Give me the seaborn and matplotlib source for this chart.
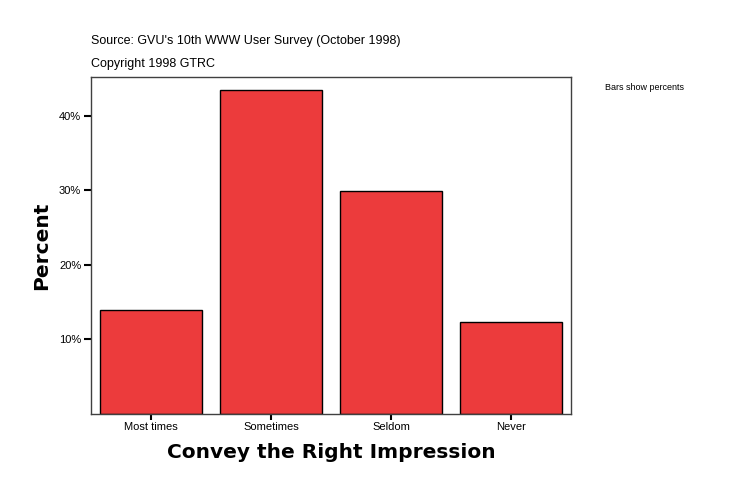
import numpy as np
import pandas as pd
import matplotlib
matplotlib.use("Agg")
import matplotlib.pyplot as plt
import seaborn as sns
from matplotlib.ticker import FuncFormatter

categories = ["Most times", "Sometimes", "Seldom", "Never"]
percents = [14.0, 43.5, 29.9, 12.3]

sns.set_theme(style="white")
plt.rcParams['font.family'] = ['Liberation Sans', 'DejaVu Sans']
plt.rcParams['text.color'] = 'black'
plt.rcParams['axes.labelcolor'] = 'black'
plt.rcParams['xtick.color'] = 'black'
plt.rcParams['ytick.color'] = 'black'

df = pd.DataFrame({"answer": categories, "percent": percents})

fig = plt.figure(figsize=(7.34, 4.96), dpi=100)
ax = fig.add_axes([0.124, 0.166, 0.654, 0.678])
sns.barplot(data=df, x="answer", y="percent", color="#ec3b3c", saturation=1,
            width=0.85, edgecolor="black", linewidth=1, ax=ax)

ax.set_ylim(0, 45.2)
ax.set_xlim(-0.5, 3.5)
ax.set_yticks([10, 20, 30, 40])
ax.yaxis.set_major_formatter(FuncFormatter(lambda v, p: f"{int(v)}%"))
ax.tick_params(axis="y", direction="out", length=5, width=1.5, color="black",
               labelsize=8, pad=2, left=True)
ax.tick_params(axis="x", direction="out", length=4, width=1.5, color="black",
               labelsize=8, pad=2, bottom=True)
for s in ax.spines.values():
    s.set_color("#404040")
    s.set_linewidth(1)

ax.set_xlabel("Convey the Right Impression", fontsize=14.5, fontweight="bold",
              family="DejaVu Sans", labelpad=8)
ax.set_ylabel("Percent", fontsize=14.5, fontweight="bold", family="DejaVu Sans",
              labelpad=6)

fig.text(91 / 734, 1 - 41 / 496, "Source: GVU's 10th WWW User Survey (October 1998)",
         fontsize=9, va="center", ha="left")
fig.text(91 / 734, 1 - 64 / 496, "Copyright 1998 GTRC", fontsize=9,
         va="center", ha="left")
fig.text(605 / 734, 1 - 87 / 496, "Bars show percents", fontsize=6.5,
         va="center", ha="left")

fig.savefig("out.png", dpi=100)
